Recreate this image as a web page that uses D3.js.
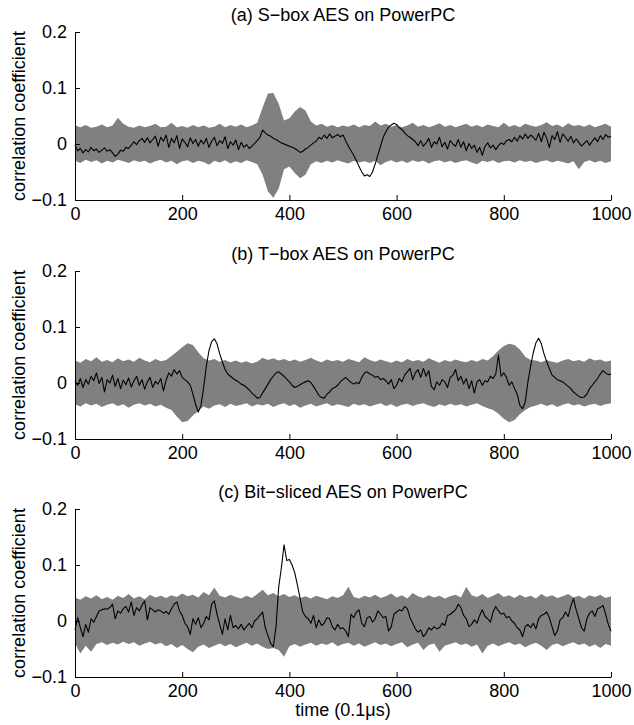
<!DOCTYPE html>
<html>
<head>
<meta charset="utf-8">
<script src="https://cdn.jsdelivr.net/npm/d3@7"></script>
<style>
  body { margin: 0; background: #fff; }
  svg text { font-family: "Liberation Sans", Arial, Helvetica, sans-serif; fill: #000; }
</style>
</head>
<body>
<div id="chart"></div>
<script>
// panel titles and axis text
const titles = ["(a) S\u2212box AES on PowerPC", "(b) T\u2212box AES on PowerPC", "(c) Bit\u2212sliced AES on PowerPC"]
const yLabel = "correlation coefficient"
const xLabel = "time (0.1\u03bcs)"
const xTicks = [0, 200, 400, 600, 800, 1000]
const xTickLabels = ["0", "200", "400", "600", "800", "1000"]
const yTicks = [-0.1, 0, 0.1, 0.2]
const yTickLabels = ["\u22120.1", "0", "0.1", "0.2"]

// correct key trace sampled every 5 time units, grey envelope every 10
const lineStep = 5
const bandStep = 10

const sboxLine = [
	-0.002,-0.012,-0.008,-0.016,-0.010,-0.014,-0.006,-0.012,-0.009,-0.015,-0.011,-0.007,-0.013,-0.010,-0.016,-0.022,-0.018,-0.011,-0.013,-0.006,
	-0.008,-0.002,0.004,-0.001,0.006,0.010,0.003,0.011,0.002,0.008,0.014,-0.004,0.012,0.005,0.016,-0.006,0.010,0.002,0.015,-0.008,
	0.009,0.003,-0.005,0.011,0.001,0.008,-0.004,0.007,0.000,0.010,-0.006,0.005,0.012,-0.003,0.006,0.001,0.013,-0.008,0.004,-0.002,
	0.007,-0.010,0.003,-0.006,-0.001,-0.008,-0.004,0.001,0.006,0.012,0.025,0.020,0.016,0.014,0.010,0.008,0.005,0.002,0.000,-0.002,
	-0.004,-0.006,-0.008,-0.011,-0.015,-0.013,-0.009,-0.006,-0.002,0.002,0.005,0.012,0.009,0.016,0.010,0.018,0.011,0.014,0.017,0.013,
	0.016,0.006,-0.004,-0.012,-0.020,-0.030,-0.040,-0.050,-0.057,-0.055,-0.058,-0.050,-0.036,-0.020,-0.004,0.012,0.022,0.030,0.034,0.037,
	0.035,0.029,0.026,0.020,0.015,0.012,0.008,0.004,-0.003,0.006,-0.004,0.002,0.010,-0.006,0.004,0.000,0.012,-0.005,0.003,-0.009,
	0.006,0.000,-0.004,0.008,-0.006,0.004,-0.012,0.001,-0.008,-0.002,-0.015,-0.006,-0.020,-0.004,0.002,-0.007,-0.002,-0.010,-0.003,0.002,
	-0.001,0.006,0.008,0.004,0.012,0.005,0.015,0.009,0.018,0.010,0.016,0.012,0.007,0.019,0.004,0.021,0.010,-0.006,0.015,0.008,
	0.022,0.003,0.018,0.012,0.005,0.014,0.002,0.009,0.003,-0.004,0.001,0.006,-0.002,0.005,0.011,0.004,0.015,0.008,0.017,0.012,
	0.014
]
const sboxUpper = [
	0.033,0.030,0.034,0.029,0.031,0.035,0.030,0.033,0.047,0.036,
	0.031,0.029,0.033,0.030,0.032,0.036,0.030,0.031,0.038,0.030,
	0.032,0.029,0.034,0.030,0.033,0.029,0.031,0.036,0.030,0.034,
	0.031,0.035,0.030,0.033,0.038,0.065,0.090,0.091,0.072,0.042,
	0.046,0.058,0.066,0.060,0.040,0.033,0.036,0.031,0.034,0.030,
	0.033,0.031,0.035,0.030,0.034,0.032,0.040,0.033,0.036,0.031,
	0.034,0.030,0.033,0.038,0.031,0.034,0.030,0.033,0.037,0.031,
	0.034,0.030,0.033,0.036,0.031,0.034,0.030,0.035,0.032,0.030,
	0.038,0.031,0.034,0.030,0.036,0.033,0.031,0.034,0.039,0.032,
	0.035,0.030,0.037,0.032,0.034,0.031,0.035,0.030,0.033,0.036,
	0.031
]
const sboxLower = [
	-0.030,-0.034,-0.028,-0.032,-0.029,-0.035,-0.030,-0.033,-0.028,-0.031,
	-0.034,-0.029,-0.032,-0.030,-0.035,-0.031,-0.028,-0.033,-0.030,-0.036,
	-0.031,-0.029,-0.034,-0.030,-0.032,-0.037,-0.030,-0.033,-0.029,-0.035,
	-0.031,-0.034,-0.029,-0.032,-0.036,-0.055,-0.085,-0.096,-0.080,-0.045,
	-0.040,-0.052,-0.061,-0.055,-0.036,-0.031,-0.034,-0.030,-0.033,-0.029,
	-0.032,-0.035,-0.030,-0.033,-0.031,-0.034,-0.030,-0.038,-0.032,-0.029,
	-0.033,-0.030,-0.034,-0.029,-0.032,-0.030,-0.035,-0.031,-0.029,-0.033,
	-0.030,-0.034,-0.031,-0.029,-0.033,-0.036,-0.030,-0.032,-0.029,-0.034,
	-0.031,-0.030,-0.033,-0.029,-0.032,-0.030,-0.034,-0.031,-0.029,-0.033,
	-0.030,-0.032,-0.035,-0.031,-0.045,-0.032,-0.029,-0.033,-0.030,-0.034,
	-0.031
]

const tboxLine = [
	0.004,-0.004,0.008,-0.008,0.006,-0.002,0.012,0.004,0.018,-0.001,0.010,-0.016,0.006,0.000,0.014,-0.006,0.008,-0.010,0.005,-0.003,
	0.009,-0.007,0.004,0.012,-0.004,0.006,-0.011,0.002,0.010,-0.008,0.003,-0.002,0.008,-0.014,0.005,0.018,0.012,0.024,0.016,0.022,
	0.010,0.006,0.002,-0.004,-0.020,-0.038,-0.052,-0.040,-0.008,0.030,0.058,0.074,0.079,0.070,0.052,0.038,0.024,0.016,0.012,0.008,
	0.005,0.002,-0.002,-0.004,-0.008,-0.012,-0.018,-0.022,-0.027,-0.026,-0.018,-0.010,-0.002,0.006,0.012,0.018,0.020,0.016,0.012,0.007,
	0.002,-0.004,-0.008,-0.006,-0.003,0.000,0.002,0.004,0.001,-0.006,-0.014,-0.022,-0.026,-0.027,-0.020,-0.016,-0.010,-0.008,-0.004,0.002,
	0.006,0.010,0.005,0.001,-0.002,0.001,-0.001,0.010,0.018,0.020,0.016,0.014,0.010,0.012,0.006,0.008,0.004,-0.002,0.006,-0.010,
	-0.004,0.008,0.002,0.014,0.020,0.026,0.006,0.018,0.024,0.010,0.026,0.012,0.022,-0.006,-0.012,0.002,-0.004,0.006,0.002,-0.008,
	0.010,0.014,0.024,0.004,0.012,-0.002,0.008,-0.010,0.004,-0.018,0.002,0.006,-0.004,0.004,0.002,0.012,0.008,0.016,0.050,0.012,
	0.018,0.010,-0.004,0.002,-0.010,-0.020,-0.040,-0.046,-0.034,0.002,0.030,0.054,0.072,0.080,0.070,0.052,0.038,0.026,0.014,0.010,
	0.006,0.004,0.002,-0.002,-0.006,-0.010,-0.016,-0.020,-0.024,-0.026,-0.025,-0.020,-0.010,-0.004,0.002,0.008,0.016,0.022,0.018,0.015,
	0.016
]
const tboxUpper = [
	0.040,0.036,0.043,0.039,0.046,0.038,0.041,0.037,0.044,0.039,
	0.042,0.038,0.045,0.040,0.037,0.043,0.039,0.041,0.048,0.056,
	0.064,0.071,0.068,0.055,0.044,0.040,0.043,0.038,0.041,0.037,
	0.040,0.036,0.039,0.035,0.038,0.045,0.041,0.044,0.040,0.043,
	0.039,0.042,0.038,0.041,0.045,0.040,0.037,0.042,0.039,0.041,
	0.038,0.043,0.040,0.037,0.046,0.041,0.038,0.042,0.039,0.036,
	0.040,0.037,0.043,0.039,0.041,0.038,0.044,0.040,0.036,0.041,
	0.038,0.042,0.039,0.037,0.041,0.038,0.043,0.040,0.048,0.058,
	0.066,0.070,0.068,0.060,0.047,0.041,0.040,0.037,0.041,0.038,
	0.036,0.040,0.043,0.039,0.041,0.038,0.044,0.040,0.042,0.038,
	0.040
]
const tboxLower = [
	-0.038,-0.042,-0.036,-0.040,-0.037,-0.043,-0.039,-0.036,-0.041,-0.038,
	-0.044,-0.039,-0.036,-0.040,-0.037,-0.042,-0.039,-0.044,-0.048,-0.060,
	-0.070,-0.068,-0.058,-0.050,-0.042,-0.046,-0.040,-0.038,-0.043,-0.037,
	-0.041,-0.039,-0.036,-0.042,-0.038,-0.040,-0.037,-0.043,-0.039,-0.036,
	-0.041,-0.038,-0.044,-0.040,-0.037,-0.042,-0.039,-0.036,-0.041,-0.038,
	-0.040,-0.043,-0.037,-0.040,-0.038,-0.042,-0.039,-0.036,-0.041,-0.038,
	-0.043,-0.039,-0.037,-0.041,-0.038,-0.036,-0.040,-0.043,-0.038,-0.041,
	-0.037,-0.040,-0.038,-0.042,-0.039,-0.036,-0.041,-0.045,-0.048,-0.055,
	-0.064,-0.070,-0.066,-0.056,-0.048,-0.043,-0.040,-0.037,-0.041,-0.038,
	-0.043,-0.039,-0.036,-0.040,-0.038,-0.042,-0.039,-0.037,-0.041,-0.038,
	-0.036
]

const bitLine = [
	-0.016,0.006,-0.012,-0.028,-0.006,-0.020,0.004,-0.002,0.008,0.018,0.020,0.022,0.021,0.024,0.030,0.004,0.018,0.014,0.022,0.026,
	0.016,0.034,0.010,0.024,0.018,0.028,0.036,0.002,0.024,0.020,0.016,0.020,0.018,0.014,0.017,0.012,0.022,0.030,0.034,0.018,
	0.010,-0.004,-0.010,-0.024,0.004,-0.006,0.006,-0.012,-0.004,0.008,0.002,0.030,0.036,0.012,-0.006,-0.024,0.004,-0.016,0.010,-0.012,
	-0.008,-0.014,-0.006,-0.016,-0.010,-0.004,-0.012,0.000,0.004,0.010,0.016,-0.012,-0.026,-0.040,-0.046,-0.010,0.060,0.095,0.136,0.108,
	0.110,0.100,0.086,0.064,0.040,0.016,0.008,0.004,-0.004,0.010,-0.012,0.002,-0.008,-0.004,0.006,0.004,-0.010,-0.016,-0.006,-0.014,
	-0.012,-0.018,-0.028,0.012,0.006,0.016,0.020,-0.004,-0.010,0.006,0.008,-0.002,0.004,0.018,0.012,0.006,0.008,-0.018,-0.010,0.012,
	0.016,0.020,0.018,0.026,0.022,0.006,-0.004,-0.014,-0.020,-0.016,-0.028,-0.022,-0.012,-0.016,-0.010,-0.014,-0.012,-0.004,-0.008,0.010,
	0.012,0.016,0.020,0.030,0.024,0.010,0.004,-0.010,-0.006,0.002,-0.004,0.010,0.020,0.008,0.004,-0.002,0.016,0.026,0.018,0.012,
	0.014,0.006,0.008,0.000,-0.004,-0.012,-0.016,-0.028,-0.010,-0.006,-0.012,-0.004,-0.014,0.004,0.010,0.012,0.016,0.006,-0.010,-0.026,
	-0.018,0.002,0.006,0.016,0.008,0.026,0.040,0.020,0.004,-0.012,-0.018,0.004,0.014,0.018,0.008,0.022,0.024,0.028,0.012,-0.006,
	-0.018
]
const bitUpper = [
	0.042,0.038,0.044,0.040,0.046,0.039,0.043,0.038,0.045,0.041,
	0.048,0.040,0.044,0.039,0.047,0.042,0.045,0.041,0.046,0.043,
	0.049,0.044,0.047,0.042,0.052,0.046,0.060,0.045,0.042,0.047,
	0.043,0.040,0.045,0.041,0.048,0.056,0.046,0.050,0.044,0.048,
	0.043,0.046,0.041,0.044,0.040,0.045,0.042,0.039,0.044,0.041,
	0.046,0.061,0.043,0.040,0.045,0.042,0.047,0.041,0.044,0.049,
	0.042,0.046,0.040,0.050,0.044,0.041,0.046,0.042,0.045,0.040,
	0.044,0.047,0.042,0.061,0.046,0.043,0.048,0.041,0.045,0.050,
	0.043,0.046,0.041,0.047,0.042,0.045,0.040,0.048,0.043,0.046,
	0.041,0.044,0.048,0.042,0.045,0.040,0.046,0.043,0.047,0.041,
	0.044
]
const bitLower = [
	-0.040,-0.058,-0.044,-0.055,-0.041,-0.038,-0.043,-0.039,-0.042,-0.037,
	-0.041,-0.038,-0.044,-0.040,-0.037,-0.042,-0.039,-0.045,-0.041,-0.048,
	-0.043,-0.050,-0.056,-0.046,-0.042,-0.048,-0.044,-0.040,-0.045,-0.041,
	-0.047,-0.043,-0.039,-0.044,-0.040,-0.046,-0.050,-0.048,-0.052,-0.064,
	-0.045,-0.041,-0.046,-0.042,-0.039,-0.044,-0.040,-0.043,-0.038,-0.045,
	-0.041,-0.039,-0.044,-0.040,-0.046,-0.042,-0.038,-0.043,-0.040,-0.045,
	-0.041,-0.038,-0.047,-0.042,-0.039,-0.052,-0.043,-0.040,-0.055,-0.044,
	-0.041,-0.038,-0.043,-0.040,-0.046,-0.042,-0.058,-0.044,-0.040,-0.045,
	-0.041,-0.038,-0.043,-0.040,-0.047,-0.042,-0.039,-0.044,-0.052,-0.043,
	-0.040,-0.045,-0.041,-0.038,-0.043,-0.040,-0.046,-0.042,-0.048,-0.041,
	-0.044
]

const panels = [
	{ title: titles[0], line: sboxLine, upper: sboxUpper, lower: sboxLower },
	{ title: titles[1], line: tboxLine, upper: tboxUpper, lower: tboxLower },
	{ title: titles[2], line: bitLine, upper: bitUpper, lower: bitLower },
]

const w = 634
const h = 725
const left = 75
const right = 611
const panelTops = [32, 271, 509]
const panelH = 168
const grey = "#808080"
const fontSize = 18

const svg = d3
	.select("#chart")
	.append("svg")
	.attr("width", w)
	.attr("height", h)

const x = d3.scaleLinear().domain([0, 1000]).range([left, right])

panels.forEach((p, k) => {
	const top = panelTops[k]
	const y = d3.scaleLinear().domain([-0.1, 0.2]).range([top + panelH, top])
	const g = svg.append("g")

	// grey band = spread of all wrong key guesses
	const band = p.upper.map((u, i) => ({ t: i * bandStep, hi: u, lo: p.lower[i] }))
	g.append("path")
		.datum(band)
		.attr("fill", grey)
		.attr(
			"d",
			d3
				.area()
				.x(d => x(d.t))
				.y0(d => y(d.lo))
				.y1(d => y(d.hi)),
		)

	g.append("path")
		.datum(p.line)
		.attr("fill", "none")
		.attr("stroke", "#000")
		.attr("stroke-width", 1.1)
		.attr("stroke-linejoin", "round")
		.attr(
			"d",
			d3
				.line()
				.x((d, i) => x(i * lineStep))
				.y(d => y(d)),
		)

	const xAxis = d3
		.axisBottom(x)
		.tickValues(xTicks)
		.tickSizeInner(-5)
		.tickSizeOuter(0)
		.tickFormat((d, i) => xTickLabels[i])

	const gx = g
		.append("g")
		.attr("transform", `translate(0, ${top + panelH})`)
		.call(xAxis)
	gx.selectAll("text").attr("y", 7).attr("font-size", fontSize)

	const yAxis = d3
		.axisLeft(y)
		.tickValues(yTicks)
		.tickSizeInner(-5)
		.tickSizeOuter(0)
		.tickFormat((d, i) => yTickLabels[i])

	const gy = g.append("g").attr("transform", `translate(${left}, 0)`).call(yAxis)
	gy.selectAll("text").attr("x", -8).attr("font-size", fontSize)

	svg.selectAll(".domain, .tick line").attr("stroke", "#000")

	g.append("text")
		.attr("x", (left + right) / 2)
		.attr("y", top - 11)
		.attr("text-anchor", "middle")
		.attr("font-size", fontSize)
		.text(p.title)

	g.append("text")
		.attr("transform", `translate(25, ${top + panelH / 2}) rotate(-90)`)
		.attr("text-anchor", "middle")
		.attr("font-size", fontSize)
		.text(yLabel)
})

svg.append("text")
	.attr("x", (left + right) / 2)
	.attr("y", 716)
	.attr("text-anchor", "middle")
	.attr("font-size", fontSize)
	.text(xLabel)
</script>
</body>
</html>
